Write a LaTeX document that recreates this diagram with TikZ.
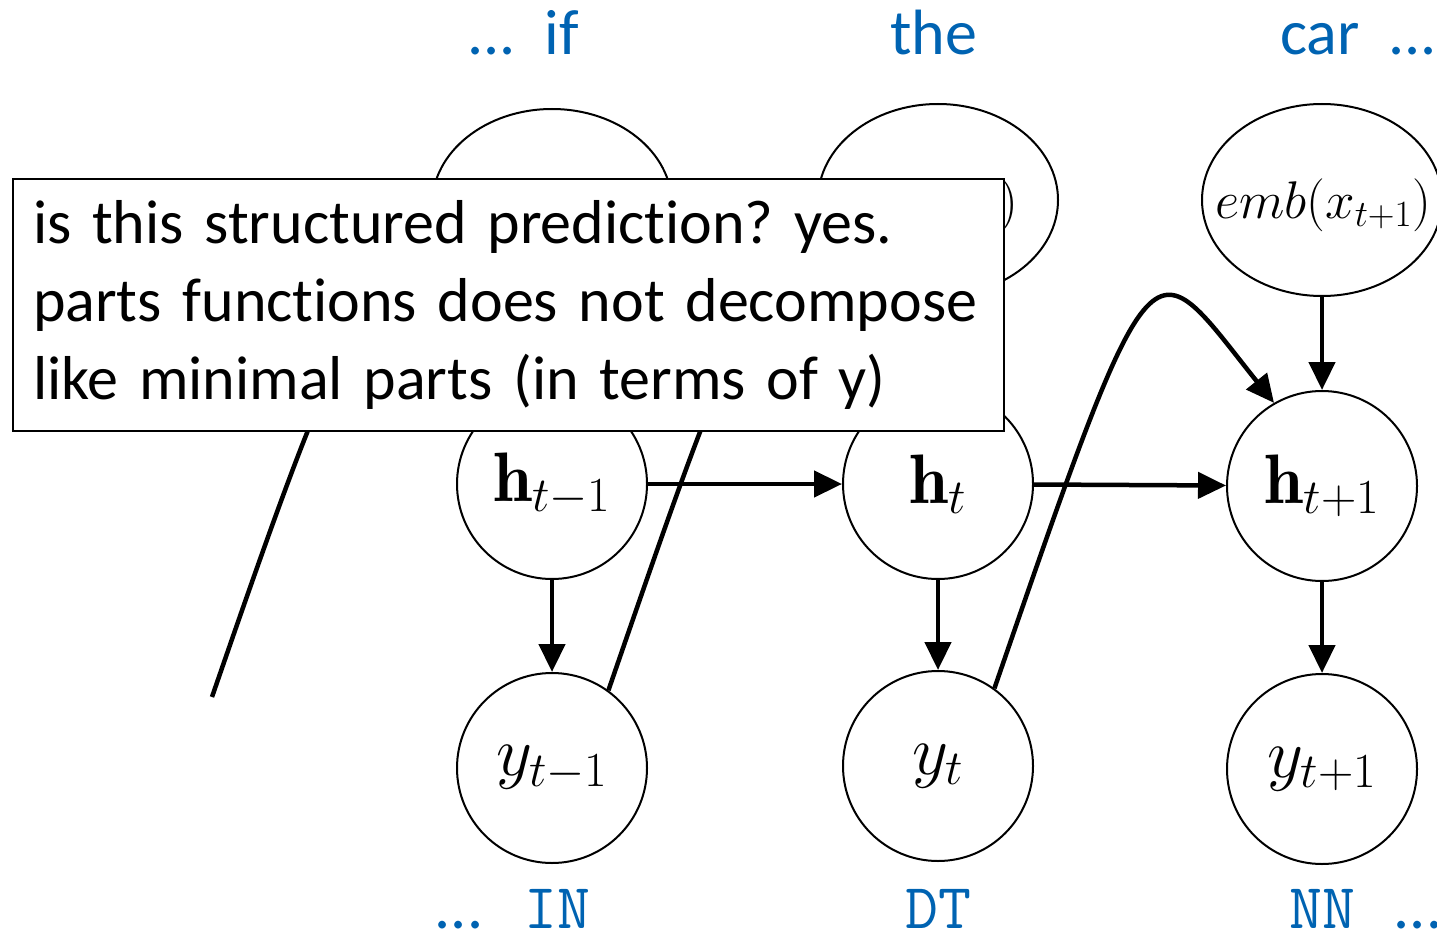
\documentclass[tikz,border=0pt]{standalone}
\usepackage{fix-cm}
\usepackage{fontspec}
\usepackage{amsmath}
\usetikzlibrary{arrows.meta, positioning, shapes.geometric}
\newfontfamily\calfont[Ligatures=NoCommon]{Carlito}
\definecolor{wordblue}{RGB}{0,99,178}
\frenchspacing

\begin{document}
\begin{tikzpicture}[x=1pt, y=-1pt,
		unit/.style={circle, draw, line width=2pt, minimum size=190pt, inner sep=0pt, font=\fontsize{70}{74}\selectfont},
		embnode/.style={ellipse, draw, line width=2pt, minimum width=240pt, minimum height=192pt, inner sep=0pt},
		emblabel/.style={inner sep=0pt, font=\fontsize{53}{60}\selectfont},
		edge/.style={line width=4.5pt, -{Triangle[length=28pt, width=26pt]}},
		word/.style={text=wordblue, inner sep=0pt, font=\calfont\fontsize{64}{70}\selectfont},
		tag/.style={text=wordblue, inner sep=0pt, font=\ttfamily\fontsize{64}{70}\selectfont},
		notebox/.style={draw, fill=white, line width=2pt, minimum width=991pt, minimum height=252pt,
			inner xsep=20pt, inner ysep=0pt, text width=951pt, align=left,
			font=\calfont\fontsize{62}{78}\selectfont}]
		
		\useasboundingbox (0,0) rectangle (1437,936);
		
		% Embeddings
		\node[embnode] (ex1) at (552,205) {};
		\node[embnode] (ex2) at (938,200) {};
		\node[embnode] (ex3) at (1322,200) {};
		\node[emblabel] (ex1txt) at (552,205) {$emb(x_{t-1})$};
		\node[emblabel] (ex2txt) at (932,205) {$emb(x_t)$};
		\node[emblabel] (ex3txt) at (1323,205) {$emb(x_{t+1})$};
		
		% Hidden states
		\node[unit] (hprev) at (552,484) {$\mathbf{h}_{t-1}$};
		\node[unit] (ht) at (938,484) {$\mathbf{h}_t$};
		\node[unit] (hnext) at (1322,486) {$\mathbf{h}_{t+1}$};
		
		% Outputs
		\node[unit] (yprev) at (552,768) {$y_{t-1}$};
		\node[unit] (yt) at (938,766) {$y_t$};
		\node[unit] (ynext) at (1322,769) {$y_{t+1}$};
		
		% Edges
		\draw[edge] (ex1) -- (hprev);
		\draw[edge] (ex2) -- (ht);
		\draw[edge] (ex3) -- (hnext);
		\draw[edge] (hprev) -- (ht);
		\draw[edge] (ht) -- (hnext);
		\draw[edge] (hprev) -- (yprev);
		\draw[edge] (ht) -- (yt);
		\draw[edge] (hnext) -- (ynext);
		
		% Feedback of previous label
		\coordinate (ystub) at (212,697);
		\draw[edge] (ystub) .. controls +(163,-473) and +(-125,-156) .. (hprev.120);
		\draw[edge] (yprev.54) .. controls +(163,-473) and +(-125,-156) .. (ht.120);
		\draw[edge] (yt.54) .. controls +(163,-473) and +(-125,-156) .. (hnext.120);
		
		% Note on top
		\node[notebox, anchor=north west] (note) at (12,178)
		{is this structured prediction? yes.\\
			parts functions does not decompose\\
			like minimal parts (in terms of y)};
		
		% Words
		\node[word, anchor=base west] (wif) at (467,55) {...\ \ if};
		\node[word, anchor=base] (wthe) at (934,55) {the};
		\node[word, anchor=base west] (wcar) at (1280,55) {car\ \ ...};
		
		% Tags
		\node[word, anchor=base] (dotl) at (459,928) {...};
		\node[tag, anchor=base] (tin) at (557,928) {IN};
		\node[tag, anchor=base] (tdt) at (938,928) {DT};
		\node[tag, anchor=base] (tnn) at (1322,928) {NN};
		\node[word, anchor=base] (dotr) at (1418,928) {...};
		
	\end{tikzpicture}
\end{document}
